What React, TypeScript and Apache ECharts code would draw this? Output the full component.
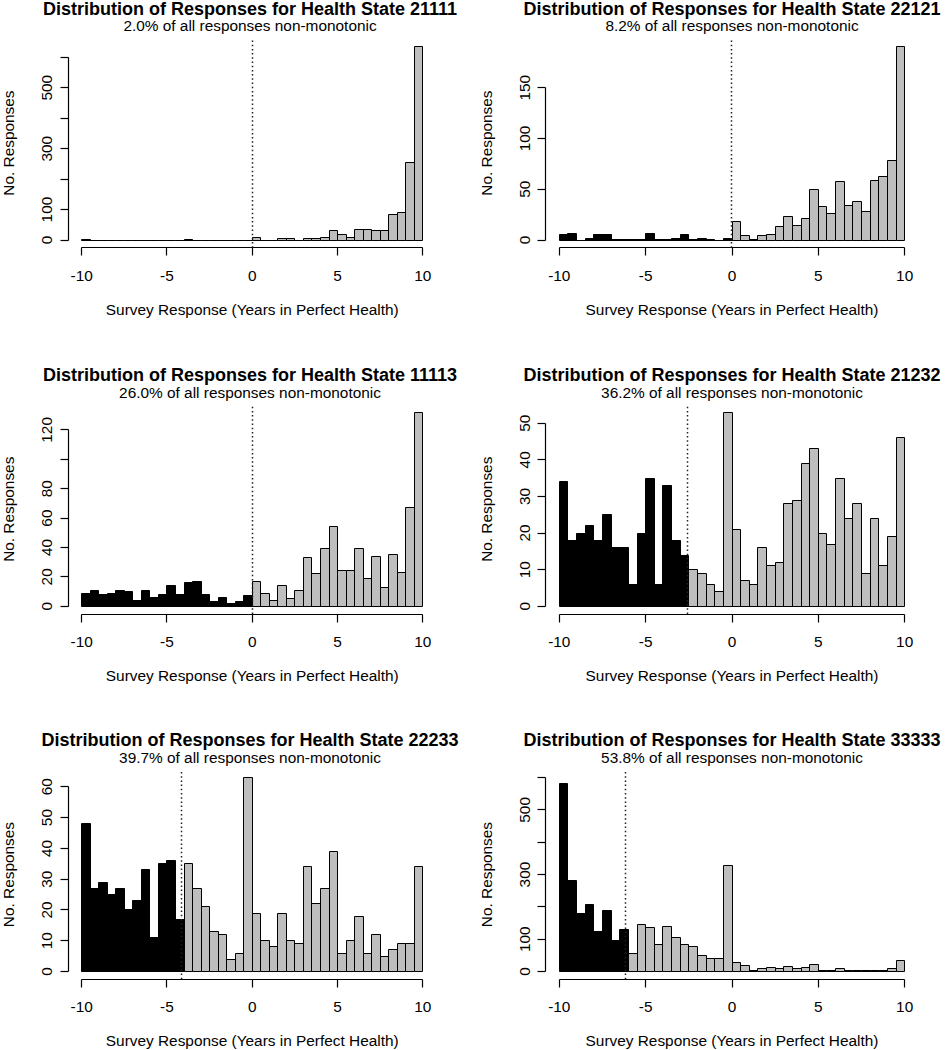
import React, { useEffect, useRef } from "react";
import * as echarts from "echarts";

// ---------------- data ----------------
const healthStates = ["21111", "22121", "11113", "21232", "22233", "33333"];
const nonMonotonicPercent = ["2.0", "8.2", "26.0", "36.2", "39.7", "53.8"];

const binBreaks = [
  -10, -9.5, -9, -8.5, -8, -7.5, -7, -6.5, -6, -5.5, -5, -4.5, -4, -3.5, -3, -2.5, -2, -1.5, -1, -0.5,
  0, 0.5, 1, 1.5, 2, 2.5, 3, 3.5, 4, 4.5, 5, 5.5, 6, 6.5, 7, 7.5, 8, 8.5, 9, 9.5, 10,
];

const counts21111 = [
  3, 0, 0, 0, 0, 0, 0, 0, 0, 0, 0, 0, 3, 0, 0, 0, 0, 0, 0, 0,
  9, 0, 0, 4, 4, 0, 4, 4, 7, 30, 19, 9, 35, 35, 30, 30, 84, 92, 254, 637,
];
const counts22121 = [
  5, 6, 0, 2, 5, 5, 1, 1, 1, 1, 6, 1, 1, 2, 5, 1, 2, 1, 0, 2,
  18, 4, 1, 4, 5, 13, 23, 14, 21, 50, 33, 26, 58, 34, 38, 28, 59, 63, 78, 191,
];
const counts11113 = [
  9, 11, 8, 9, 11, 10, 4, 11, 6, 8, 14, 8, 16, 17, 8, 3, 6, 2, 3, 7,
  17, 9, 4, 14, 5, 11, 33, 22, 39, 54, 24, 24, 39, 19, 34, 13, 35, 23, 67, 132,
];
const counts21232 = [
  34, 18, 20, 22, 18, 25, 16, 16, 6, 20, 35, 6, 33, 18, 14,
  10, 9, 6, 4, 53, 21, 7, 6, 16, 11, 12, 28, 29, 39, 43, 20, 17, 35, 24, 28, 9, 24, 11, 19, 46,
];
const counts22233 = [
  48, 27, 29, 25, 27, 20, 23, 33, 11, 35, 36, 17,
  35, 27, 21, 13, 12, 4, 6, 63, 19, 10, 8, 19, 10, 9, 34, 22, 27, 39, 6, 10, 18, 6, 12, 5, 7, 9, 9, 34,
];
const counts33333 = [
  581, 282, 179, 208, 125, 190, 96, 129,
  57, 144, 137, 83, 140, 104, 83, 76, 49, 41, 41, 328, 29, 20, 3, 8, 13, 8, 16, 8, 13, 21, 3, 3, 8, 2, 2, 2, 2, 2, 8, 33,
];
const allCounts = [counts21111, counts22121, counts11113, counts21232, counts22233, counts33333];

// dotted cut-off line (responses left of it are non-monotonic)
const cutoffs = [0, -0.03, 0, -2.6, -4.13, -6.14];
// upper y limit of each panel
const yLimits = [637, 191, 132, 53, 63, 600];

const xTickValues = [-10, -5, 0, 5, 10];
const yTickValues = [
  [0, 100, 200, 300, 400, 500, 600],
  [0, 50, 100, 150],
  [0, 20, 40, 60, 80, 100, 120],
  [0, 10, 20, 30, 40, 50],
  [0, 10, 20, 30, 40, 50, 60],
  [0, 100, 200, 300, 400, 500, 600],
];
const yLabelValues = [
  [0, 100, 300, 500],
  [0, 50, 100, 150],
  [0, 20, 40, 60, 80, 120],
  [0, 10, 20, 30, 40, 50],
  [0, 10, 20, 30, 40, 50, 60],
  [0, 100, 300, 500],
];

const xAxisTitle = "Survey Response (Years in Perfect Health)";
const yAxisTitle = "No. Responses";

// ---------------- layout / style ----------------
const FONT = '"Liberation Sans", Arial, Helvetica, sans-serif';
const COL_LEFT = [63.5, 545.5];
const ROW_TOP = [38.3, 404.5, 769.8];
const PLOT_W = 373;
const PLOT_H = 209.5;
const GRAY = "#BEBEBE";
const FS = 15.4;
const TICK_LEN = 8;

const crisp = (v: number) => Math.round(v - 0.5) + 0.5;

function buildOption() {
  const first = binBreaks[0];
  const last = binBreaks[binBreaks.length - 1];
  const xPad = 0.04 * (last - first);
  const xMin = first - xPad;
  const xMax = last + xPad;

  const grids: any[] = [];
  const xAxes: any[] = [];
  const yAxes: any[] = [];
  const series: any[] = [];
  const graphics: any[] = [];

  allCounts.forEach((counts, i) => {
    const col = i % 2;
    const row = Math.floor(i / 2);
    const left = COL_LEFT[col];
    const top = ROW_TOP[row];
    const yLim = yLimits[i];
    const yMin = -0.04 * yLim;
    const yMax = 1.04 * yLim;
    const cutoff = cutoffs[i];
    const yTicks = yTickValues[i];

    grids.push({ left, top, width: PLOT_W, height: PLOT_H, containLabel: false });

    xAxes.push({
      gridIndex: i,
      type: "value",
      position: "bottom",
      min: xMin,
      max: xMax,
      axisLine: { show: false, onZero: false },
      splitLine: { show: false },
      axisTick: { show: false },
      axisLabel: {
        customValues: xTickValues,
        margin: 20,
        fontSize: FS,
        color: "#000",
        fontFamily: FONT,
      },
      name: xAxisTitle,
      nameLocation: "middle",
      nameGap: 54,
      nameTextStyle: { fontSize: FS, color: "#000", fontFamily: FONT },
    });

    yAxes.push({
      gridIndex: i,
      type: "value",
      position: "left",
      min: yMin,
      max: yMax,
      axisLine: { show: false, onZero: false },
      splitLine: { show: false },
      axisTick: { show: false },
      axisLabel: {
        customValues: yLabelValues[i],
        rotate: 90,
        margin: 14,
        fontSize: FS,
        color: "#000",
        fontFamily: FONT,
      },
      name: yAxisTitle,
      nameLocation: "middle",
      nameGap: 52,
      nameTextStyle: { fontSize: FS, color: "#000", fontFamily: FONT },
    });

    series.push({
      type: "custom",
      xAxisIndex: i,
      yAxisIndex: i,
      silent: true,
      clip: false,
      dimensions: ["start", "end", "count"],
      encode: { x: [0, 1], y: 2 },
      data: counts.map((c, k) => [binBreaks[k], binBreaks[k + 1], c]),
      renderItem: (params: any, api: any) => {
        const x0 = api.value(0);
        const x1 = api.value(1);
        const c = api.value(2);
        const a = api.coord([x0, c]);
        const b = api.coord([x1, 0]);
        const L = crisp(a[0]);
        const R = crisp(b[0]);
        const T = crisp(a[1]);
        const B = crisp(b[1]);
        const isBlack = x0 < cutoff;
        return {
          type: "rect",
          shape: { x: L, y: T, width: R - L, height: B - T },
          style: { fill: isBlack ? "#000" : GRAY, stroke: "#000", lineWidth: 1 },
        };
      },
    });

    // axis lines, ticks and the dotted cut-off line (R style: lines span only the tick range)
    series.push({
      type: "custom",
      xAxisIndex: i,
      yAxisIndex: i,
      silent: true,
      clip: false,
      z: 5,
      data: [[0, 0]],
      renderItem: (params: any, api: any) => {
        const xa = api.coord([first, yMin]);
        const xb = api.coord([last, yMin]);
        const ya = api.coord([xMin, yTicks[0]]);
        const yb = api.coord([xMin, yTicks[yTicks.length - 1]]);
        const ca = api.coord([cutoff, yMin]);
        const cb = api.coord([cutoff, yMax]);
        const xy = crisp(xa[1]);
        const yx = crisp(ya[0]);
        const cx = crisp(ca[0]);
        const axisStyle = { stroke: "#000", lineWidth: 1.2 };
        const children: any[] = [
          { type: "line", shape: { x1: crisp(xa[0]), y1: xy, x2: crisp(xb[0]), y2: xy }, style: axisStyle },
          { type: "line", shape: { x1: yx, y1: crisp(ya[1]), x2: yx, y2: crisp(yb[1]) }, style: axisStyle },
          {
            type: "line",
            shape: { x1: cx, y1: ca[1], x2: cx, y2: cb[1] },
            style: { stroke: "#222", lineWidth: 1.5, lineDash: [1.5, 2.7] },
          },
        ];
        xTickValues.forEach((v) => {
          const p = api.coord([v, yMin]);
          const px = crisp(p[0]);
          children.push({ type: "line", shape: { x1: px, y1: xy, x2: px, y2: xy + TICK_LEN }, style: axisStyle });
        });
        yTicks.forEach((v) => {
          const p = api.coord([xMin, v]);
          const py = crisp(p[1]);
          children.push({ type: "line", shape: { x1: yx, y1: py, x2: yx - TICK_LEN, y2: py }, style: axisStyle });
        });
        return { type: "group", children };
      },
    });

    const cx = left + PLOT_W / 2;
    graphics.push({
      type: "text",
      x: cx,
      y: top - 29.5,
      silent: true,
      style: {
        text: `Distribution of Responses for Health State ${healthStates[i]}`,
        fontSize: 18,
        fontWeight: "bold",
        fontFamily: FONT,
        fill: "#000",
        align: "center",
        verticalAlign: "middle",
      },
    });
    graphics.push({
      type: "text",
      x: cx,
      y: top - 12.5,
      silent: true,
      style: {
        text: `${nonMonotonicPercent[i]}% of all responses non-monotonic`,
        fontSize: FS,
        fontFamily: FONT,
        fill: "#000",
        align: "center",
        verticalAlign: "middle",
      },
    });
  });

  return {
    animation: false,
    backgroundColor: "#fff",
    textStyle: { fontFamily: FONT },
    grid: grids,
    xAxis: xAxes,
    yAxis: yAxes,
    series,
    graphic: graphics,
  };
}

export default function App() {
  const ref = useRef<HTMLDivElement>(null);
  useEffect(() => {
    if (!ref.current) return;
    const chart = echarts.init(ref.current, undefined, { renderer: "svg" });
    chart.setOption(buildOption());
    return () => chart.dispose();
  }, []);
  return (
    <div
      ref={ref}
      style={{ position: "absolute", left: 0, top: 0, width: 945, height: 1050, background: "#fff" }}
    />
  );
}
